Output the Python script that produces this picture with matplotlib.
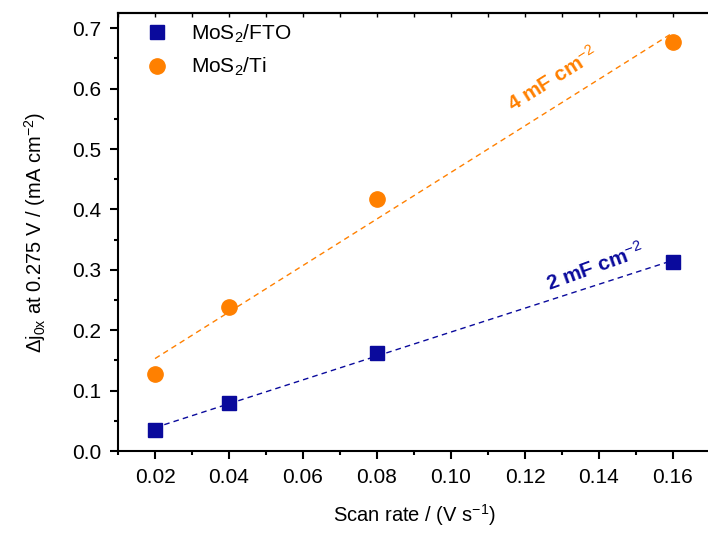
import matplotlib
matplotlib.use('Agg')
from matplotlib import pyplot as plt
from matplotlib.ticker import MultipleLocator
import numpy as np

plt.rcParams['font.family'] = ['Liberation Sans', 'DejaVu Sans']
plt.rcParams['mathtext.fontset'] = 'custom'
plt.rcParams['mathtext.rm'] = 'Liberation Sans'
plt.rcParams['mathtext.it'] = 'Liberation Sans'
plt.rcParams['mathtext.bf'] = 'Liberation Sans:bold'

# данные
scan_rate = [0.02, 0.04, 0.08, 0.16]
fto_values = [0.034, 0.080, 0.163, 0.313]
ti_values = [0.127, 0.238, 0.418, 0.677]

fto_color = '#0A0A9C'
ti_color = '#FF8000'

fig = plt.figure(figsize=(7.08, 5.34), dpi=100)
ax = fig.add_axes([0.1667, 0.1554, 0.836, 0.820])

ax.plot(scan_rate, fto_values, 's', color=fto_color, ms=10, label='MoS$_2$/FTO', zorder=3)
ax.plot(scan_rate, ti_values, 'o', color=ti_color, ms=11, label='MoS$_2$/Ti', zorder=3)

# линейные аппроксимации
xs = np.array([scan_rate[0], scan_rate[-1]])
for vals, c in [(fto_values, fto_color), (ti_values, ti_color)]:
    k, b = np.polyfit(scan_rate, vals, 1)
    ax.plot(xs, k * xs + b, color=c, lw=1, linestyle=(0, (4, 3)), zorder=2)

ax.text(0.1275, 0.616, '4 mF cm$^{\\mathrm{-2}}$', color=ti_color, fontsize=15, fontweight='bold',
        rotation=32, ha='center', va='center')
ax.text(0.139, 0.305, '2 mF cm$^{\\mathrm{-2}}$', color=fto_color, fontsize=15, fontweight='bold',
        rotation=20, ha='center', va='center')

ax.set_xlim(0.01, 0.17)
ax.set_ylim(0.0, 0.725)
ax.xaxis.set_minor_locator(MultipleLocator(0.01))
ax.yaxis.set_major_locator(MultipleLocator(0.1))
ax.yaxis.set_minor_locator(MultipleLocator(0.05))
ax.set_xticks([0.02, 0.04, 0.06, 0.08, 0.10, 0.12, 0.14, 0.16])
ax.set_xticklabels(['0.02', '0.04', '0.06', '0.08', '0.10', '0.12', '0.14', '0.16'])
ax.tick_params(axis='both', which='major', direction='out', length=6, width=1.5, labelsize=15)
ax.tick_params(axis='both', which='minor', direction='out', length=3, width=1.5)
ax.tick_params(axis='x', which='major', pad=6)
ax.tick_params(axis='y', which='major', pad=6)

top = ax.secondary_xaxis('top')
top.xaxis.set_major_locator(MultipleLocator(0.02))
top.xaxis.set_minor_locator(MultipleLocator(0.01))
top.tick_params(which='both', direction='in', length=3, width=1, labeltop=False)

for s in ax.spines.values():
    s.set_linewidth(1.5)
top.spines['top'].set_linewidth(1.5)

ax.set_xlabel('Scan rate / (V s$^{\\mathrm{-1}}$)', fontsize=14.5, labelpad=11)
ax.set_ylabel('$\\Delta$j$_{0x}$ at 0.275 V / (mA cm$^{\\mathrm{-2}}$)', fontsize=14.5, labelpad=17)

ax.legend(loc='upper left', frameon=False, fontsize=15, handletextpad=0.6,
          borderaxespad=0.0, labelspacing=0.55, borderpad=0.4,
          bbox_to_anchor=(0.017, 0.998))

fig.savefig('out.png', dpi=100)
